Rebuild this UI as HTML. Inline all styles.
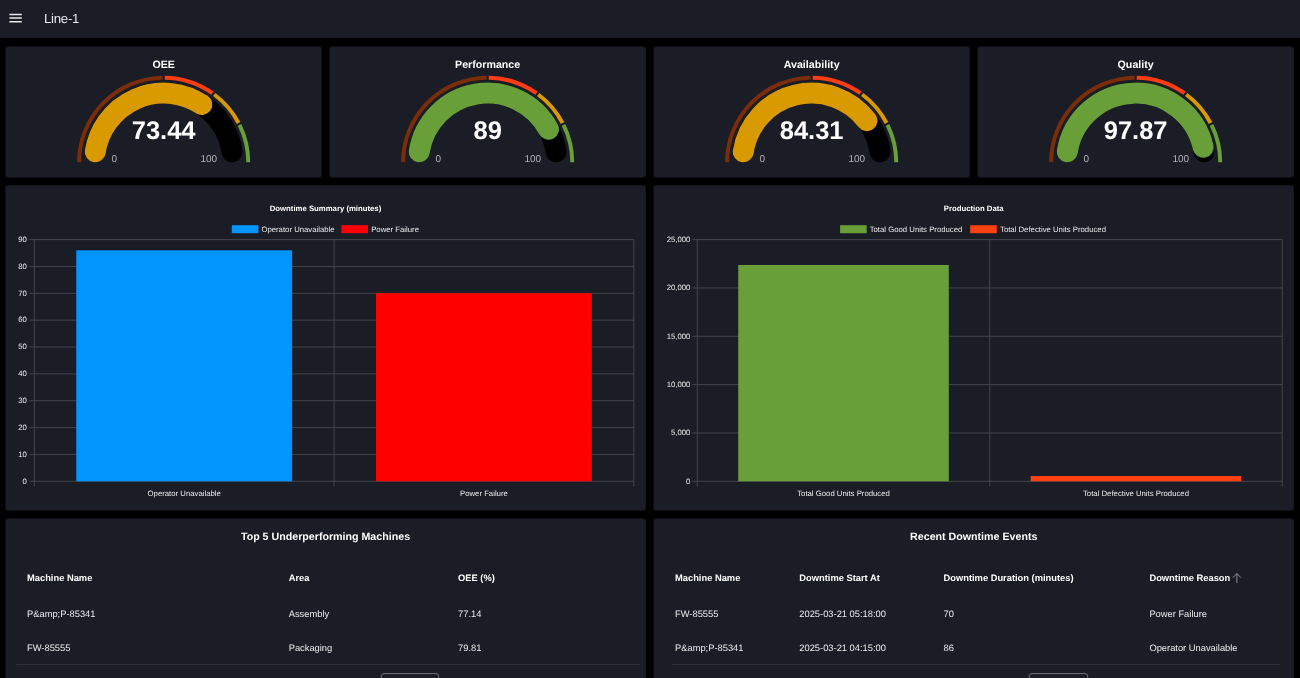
<!DOCTYPE html>
<html lang="en">
<head>
<meta charset="utf-8">
<title>Line-1</title>
<style>
html,body{margin:0;padding:0;background:#000;width:1300px;height:678px;overflow:hidden}
svg{display:block;text-rendering:geometricPrecision;font-family:"Liberation Sans",Arial,Helvetica,sans-serif}
</style>
</head>
<body>
<svg width="1300" height="678" viewBox="0 0 1300 678">
<rect x="0" y="0" width="1300" height="38" fill="#1a1c26"/>
<rect x="5.5" y="46.5" width="316.3" height="131" rx="2.7" fill="#1a1c26"/>
<rect x="329.5" y="46.5" width="316.3" height="131" rx="2.7" fill="#1a1c26"/>
<rect x="653.5" y="46.5" width="316.3" height="131" rx="2.7" fill="#1a1c26"/>
<rect x="977.5" y="46.5" width="316.3" height="131" rx="2.7" fill="#1a1c26"/>
<rect x="5.5" y="185.3" width="640.3" height="325.2" rx="2.7" fill="#1a1c26"/>
<rect x="5.5" y="518.4" width="640.3" height="170" rx="2.7" fill="#1a1c26"/>
<rect x="653.5" y="185.3" width="640.3" height="325.2" rx="2.7" fill="#1a1c26"/>
<rect x="653.5" y="518.4" width="640.3" height="170" rx="2.7" fill="#1a1c26"/>
<path d="M79.05 162.30A84.60 84.60 0 0 1 162.59 77.71" stroke="#7a2d08" stroke-width="4" fill="none"/>
<path d="M164.71 77.71A84.60 84.60 0 0 1 212.51 93.24" stroke="#ff3d14" stroke-width="4" fill="none"/>
<path d="M214.23 94.49A84.60 84.60 0 0 1 238.54 122.95" stroke="#d99a00" stroke-width="4" fill="none"/>
<path d="M239.51 124.84A84.60 84.60 0 0 1 248.25 162.30" stroke="#689f38" stroke-width="4" fill="none"/>
<path d="M95.25 151.80A69.20 69.20 0 0 1 232.05 151.80" stroke="#000" stroke-width="21.0" stroke-linecap="round" fill="none"/>
<path d="M95.25 151.80A69.20 69.20 0 0 1 201.81 104.57" stroke="#d99a00" stroke-width="21.0" stroke-linecap="round" fill="none"/>
<text x="163.65" y="139.10" text-anchor="middle" font-size="25.5" font-weight="700" fill="#fff">73.44</text>
<text x="111.45" y="162.00" text-anchor="start" font-size="10" fill="#b4b4b8">0</text>
<text x="217.15" y="162.00" text-anchor="end" font-size="10" fill="#b4b4b8">100</text>
<text x="163.65" y="68.30" text-anchor="middle" font-size="10.67" font-weight="700" fill="#fff">OEE</text>
<path d="M403.05 162.30A84.60 84.60 0 0 1 486.59 77.71" stroke="#7a2d08" stroke-width="4" fill="none"/>
<path d="M488.71 77.71A84.60 84.60 0 0 1 536.51 93.24" stroke="#ff3d14" stroke-width="4" fill="none"/>
<path d="M538.23 94.49A84.60 84.60 0 0 1 562.54 122.95" stroke="#d99a00" stroke-width="4" fill="none"/>
<path d="M563.51 124.84A84.60 84.60 0 0 1 572.25 162.30" stroke="#689f38" stroke-width="4" fill="none"/>
<path d="M419.25 151.80A69.20 69.20 0 0 1 556.05 151.80" stroke="#000" stroke-width="21.0" stroke-linecap="round" fill="none"/>
<path d="M419.25 151.80A69.20 69.20 0 0 1 548.45 129.25" stroke="#689f38" stroke-width="21.0" stroke-linecap="round" fill="none"/>
<text x="487.65" y="139.10" text-anchor="middle" font-size="25.5" font-weight="700" fill="#fff">89</text>
<text x="435.45" y="162.00" text-anchor="start" font-size="10" fill="#b4b4b8">0</text>
<text x="541.15" y="162.00" text-anchor="end" font-size="10" fill="#b4b4b8">100</text>
<text x="487.65" y="68.30" text-anchor="middle" font-size="10.67" font-weight="700" fill="#fff">Performance</text>
<path d="M727.05 162.30A84.60 84.60 0 0 1 810.59 77.71" stroke="#7a2d08" stroke-width="4" fill="none"/>
<path d="M812.71 77.71A84.60 84.60 0 0 1 860.51 93.24" stroke="#ff3d14" stroke-width="4" fill="none"/>
<path d="M862.23 94.49A84.60 84.60 0 0 1 886.54 122.95" stroke="#d99a00" stroke-width="4" fill="none"/>
<path d="M887.51 124.84A84.60 84.60 0 0 1 896.25 162.30" stroke="#689f38" stroke-width="4" fill="none"/>
<path d="M743.25 151.80A69.20 69.20 0 0 1 880.05 151.80" stroke="#000" stroke-width="21.0" stroke-linecap="round" fill="none"/>
<path d="M743.25 151.80A69.20 69.20 0 0 1 866.94 120.68" stroke="#d99a00" stroke-width="21.0" stroke-linecap="round" fill="none"/>
<text x="811.65" y="139.10" text-anchor="middle" font-size="25.5" font-weight="700" fill="#fff">84.31</text>
<text x="759.45" y="162.00" text-anchor="start" font-size="10" fill="#b4b4b8">0</text>
<text x="865.15" y="162.00" text-anchor="end" font-size="10" fill="#b4b4b8">100</text>
<text x="811.65" y="68.30" text-anchor="middle" font-size="10.67" font-weight="700" fill="#fff">Availability</text>
<path d="M1051.05 162.30A84.60 84.60 0 0 1 1134.59 77.71" stroke="#7a2d08" stroke-width="4" fill="none"/>
<path d="M1136.71 77.71A84.60 84.60 0 0 1 1184.51 93.24" stroke="#ff3d14" stroke-width="4" fill="none"/>
<path d="M1186.23 94.49A84.60 84.60 0 0 1 1210.54 122.95" stroke="#d99a00" stroke-width="4" fill="none"/>
<path d="M1211.51 124.84A84.60 84.60 0 0 1 1220.25 162.30" stroke="#689f38" stroke-width="4" fill="none"/>
<path d="M1067.25 151.80A69.20 69.20 0 0 1 1204.05 151.80" stroke="#000" stroke-width="21.0" stroke-linecap="round" fill="none"/>
<path d="M1067.25 151.80A69.20 69.20 0 0 1 1203.19 147.25" stroke="#689f38" stroke-width="21.0" stroke-linecap="round" fill="none"/>
<text x="1135.65" y="139.10" text-anchor="middle" font-size="25.5" font-weight="700" fill="#fff">97.87</text>
<text x="1083.45" y="162.00" text-anchor="start" font-size="10" fill="#b4b4b8">0</text>
<text x="1189.15" y="162.00" text-anchor="end" font-size="10" fill="#b4b4b8">100</text>
<text x="1135.65" y="68.30" text-anchor="middle" font-size="10.67" font-weight="700" fill="#fff">Quality</text>
<line x1="29.30" x2="633.80" y1="239.60" y2="239.60" stroke="#44464c" stroke-width="1"/>
<text x="26.90" y="241.90" text-anchor="end" font-size="7.75" fill="#ececee">90</text>
<line x1="29.30" x2="633.80" y1="266.46" y2="266.46" stroke="#44464c" stroke-width="1"/>
<text x="26.90" y="268.76" text-anchor="end" font-size="7.75" fill="#ececee">80</text>
<line x1="29.30" x2="633.80" y1="293.31" y2="293.31" stroke="#44464c" stroke-width="1"/>
<text x="26.90" y="295.61" text-anchor="end" font-size="7.75" fill="#ececee">70</text>
<line x1="29.30" x2="633.80" y1="320.17" y2="320.17" stroke="#44464c" stroke-width="1"/>
<text x="26.90" y="322.47" text-anchor="end" font-size="7.75" fill="#ececee">60</text>
<line x1="29.30" x2="633.80" y1="347.02" y2="347.02" stroke="#44464c" stroke-width="1"/>
<text x="26.90" y="349.32" text-anchor="end" font-size="7.75" fill="#ececee">50</text>
<line x1="29.30" x2="633.80" y1="373.88" y2="373.88" stroke="#44464c" stroke-width="1"/>
<text x="26.90" y="376.18" text-anchor="end" font-size="7.75" fill="#ececee">40</text>
<line x1="29.30" x2="633.80" y1="400.73" y2="400.73" stroke="#44464c" stroke-width="1"/>
<text x="26.90" y="403.03" text-anchor="end" font-size="7.75" fill="#ececee">30</text>
<line x1="29.30" x2="633.80" y1="427.59" y2="427.59" stroke="#44464c" stroke-width="1"/>
<text x="26.90" y="429.89" text-anchor="end" font-size="7.75" fill="#ececee">20</text>
<line x1="29.30" x2="633.80" y1="454.44" y2="454.44" stroke="#44464c" stroke-width="1"/>
<text x="26.90" y="456.74" text-anchor="end" font-size="7.75" fill="#ececee">10</text>
<line x1="29.30" x2="633.80" y1="481.30" y2="481.30" stroke="#44464c" stroke-width="1"/>
<text x="26.90" y="483.60" text-anchor="end" font-size="7.75" fill="#ececee">0</text>
<line x1="34.30" x2="34.30" y1="239.60" y2="486.60" stroke="#44464c" stroke-width="1"/>
<line x1="334.05" x2="334.05" y1="239.60" y2="486.60" stroke="#44464c" stroke-width="1"/>
<line x1="633.80" x2="633.80" y1="239.60" y2="486.60" stroke="#44464c" stroke-width="1"/>
<rect x="76.27" y="250.30" width="215.82" height="231.00" fill="#0095ff"/>
<text x="184.18" y="495.90" text-anchor="middle" font-size="7.75" fill="#ececee">Operator Unavailable</text>
<rect x="376.01" y="293.20" width="215.82" height="188.10" fill="#ff0000"/>
<text x="483.93" y="495.90" text-anchor="middle" font-size="7.75" fill="#ececee">Power Failure</text>
<text x="325.50" y="210.5" text-anchor="middle" font-size="7.75" font-weight="700" fill="#fff">Downtime Summary (minutes)</text>
<rect x="231.80" y="225.2" width="26.6" height="8" fill="#0095ff"/>
<text x="261.40" y="232.1" font-size="7.75" fill="#ececee">Operator Unavailable</text>
<rect x="341.40" y="225.2" width="26.6" height="8" fill="#ff0000"/>
<text x="371.20" y="232.1" font-size="7.75" fill="#ececee">Power Failure</text>
<line x1="692.30" x2="1282.20" y1="239.60" y2="239.60" stroke="#44464c" stroke-width="1"/>
<text x="690.40" y="241.90" text-anchor="end" font-size="7.75" fill="#ececee">25,000</text>
<line x1="692.30" x2="1282.20" y1="287.94" y2="287.94" stroke="#44464c" stroke-width="1"/>
<text x="690.40" y="290.24" text-anchor="end" font-size="7.75" fill="#ececee">20,000</text>
<line x1="692.30" x2="1282.20" y1="336.28" y2="336.28" stroke="#44464c" stroke-width="1"/>
<text x="690.40" y="338.58" text-anchor="end" font-size="7.75" fill="#ececee">15,000</text>
<line x1="692.30" x2="1282.20" y1="384.62" y2="384.62" stroke="#44464c" stroke-width="1"/>
<text x="690.40" y="386.92" text-anchor="end" font-size="7.75" fill="#ececee">10,000</text>
<line x1="692.30" x2="1282.20" y1="432.96" y2="432.96" stroke="#44464c" stroke-width="1"/>
<text x="690.40" y="435.26" text-anchor="end" font-size="7.75" fill="#ececee">5,000</text>
<line x1="692.30" x2="1282.20" y1="481.30" y2="481.30" stroke="#44464c" stroke-width="1"/>
<text x="690.40" y="483.60" text-anchor="end" font-size="7.75" fill="#ececee">0</text>
<line x1="697.30" x2="697.30" y1="239.60" y2="486.60" stroke="#44464c" stroke-width="1"/>
<line x1="989.75" x2="989.75" y1="239.60" y2="486.60" stroke="#44464c" stroke-width="1"/>
<line x1="1282.20" x2="1282.20" y1="239.60" y2="486.60" stroke="#44464c" stroke-width="1"/>
<rect x="738.24" y="265.00" width="210.56" height="216.30" fill="#689f38"/>
<text x="843.52" y="495.90" text-anchor="middle" font-size="7.75" fill="#ececee">Total Good Units Produced</text>
<rect x="1030.69" y="476.00" width="210.56" height="5.30" fill="#ff4013"/>
<text x="1135.97" y="495.90" text-anchor="middle" font-size="7.75" fill="#ececee">Total Defective Units Produced</text>
<text x="973.75" y="210.5" text-anchor="middle" font-size="7.75" font-weight="700" fill="#fff">Production Data</text>
<rect x="840.10" y="225.2" width="26.6" height="8" fill="#689f38"/>
<text x="869.70" y="232.1" font-size="7.75" fill="#ececee">Total Good Units Produced</text>
<rect x="970.20" y="225.2" width="26.6" height="8" fill="#ff4013"/>
<text x="1000.00" y="232.1" font-size="7.75" fill="#ececee">Total Defective Units Produced</text>
<text x="325.50" y="539.60" font-size="10.67" font-weight="700" text-anchor="middle" fill="#fff">Top 5 Underperforming Machines</text>
<text x="27.00" y="581.20" font-size="9.33" font-weight="700" text-anchor="start" fill="#fff">Machine Name</text>
<text x="288.70" y="581.20" font-size="9.33" font-weight="700" text-anchor="start" fill="#fff">Area</text>
<text x="458.00" y="581.20" font-size="9.33" font-weight="700" text-anchor="start" fill="#fff">OEE (%)</text>
<text x="27.00" y="616.90" font-size="9.33" text-anchor="start" fill="#ececee">P&amp;amp;P-85341</text>
<text x="288.70" y="616.90" font-size="9.33" text-anchor="start" fill="#ececee">Assembly</text>
<text x="458.00" y="616.90" font-size="9.33" text-anchor="start" fill="#ececee">77.14</text>
<text x="27.00" y="650.80" font-size="9.33" text-anchor="start" fill="#ececee">FW-85555</text>
<text x="288.70" y="650.80" font-size="9.33" text-anchor="start" fill="#ececee">Packaging</text>
<text x="458.00" y="650.80" font-size="9.33" text-anchor="start" fill="#ececee">79.81</text>
<line x1="16.2" x2="640" y1="664.5" y2="664.5" stroke="#2f3139" stroke-width="1"/>
<rect x="381.3" y="673.6" width="57.3" height="20" rx="2.7" fill="none" stroke="#8a8b90" stroke-width="0.8"/>
<text x="973.75" y="539.60" font-size="10.67" font-weight="700" text-anchor="middle" fill="#fff">Recent Downtime Events</text>
<text x="675.00" y="581.20" font-size="9.33" font-weight="700" text-anchor="start" fill="#fff">Machine Name</text>
<text x="799.30" y="581.20" font-size="9.33" font-weight="700" text-anchor="start" fill="#fff">Downtime Start At</text>
<text x="943.50" y="581.20" font-size="9.33" font-weight="700" text-anchor="start" fill="#fff">Downtime Duration (minutes)</text>
<text x="1149.40" y="581.20" font-size="9.33" font-weight="700" text-anchor="start" fill="#fff">Downtime Reason</text>
<text x="675.00" y="616.90" font-size="9.33" text-anchor="start" fill="#ececee">FW-85555</text>
<text x="799.30" y="616.90" font-size="9.33" text-anchor="start" fill="#ececee">2025-03-21 05:18:00</text>
<text x="943.50" y="616.90" font-size="9.33" text-anchor="start" fill="#ececee">70</text>
<text x="1149.40" y="616.90" font-size="9.33" text-anchor="start" fill="#ececee">Power Failure</text>
<text x="675.00" y="650.80" font-size="9.33" text-anchor="start" fill="#ececee">P&amp;amp;P-85341</text>
<text x="799.30" y="650.80" font-size="9.33" text-anchor="start" fill="#ececee">2025-03-21 04:15:00</text>
<text x="943.50" y="650.80" font-size="9.33" text-anchor="start" fill="#ececee">86</text>
<text x="1149.40" y="650.80" font-size="9.33" text-anchor="start" fill="#ececee">Operator Unavailable</text>
<path d="M1236.9 573.6V583 M1232.9 577.6L1236.9 573.6L1240.9 577.6" stroke="#9a9ba0" stroke-width="0.9" fill="none"/>
<line x1="672" x2="1280.3" y1="664.5" y2="664.5" stroke="#2f3139" stroke-width="1"/>
<rect x="1029.2" y="673.6" width="58.5" height="20" rx="2.7" fill="none" stroke="#8a8b90" stroke-width="0.8"/>
<path d="M9.4 14.6H21.8M9.4 18.1H21.8M9.4 21.7H21.8" stroke="#e8e8ea" stroke-width="1.5" fill="none"/>
<text x="44" y="23.2" font-size="13.2" letter-spacing="-0.25" fill="#e8e8ea">Line-1</text>
</svg>
</body>
</html>
